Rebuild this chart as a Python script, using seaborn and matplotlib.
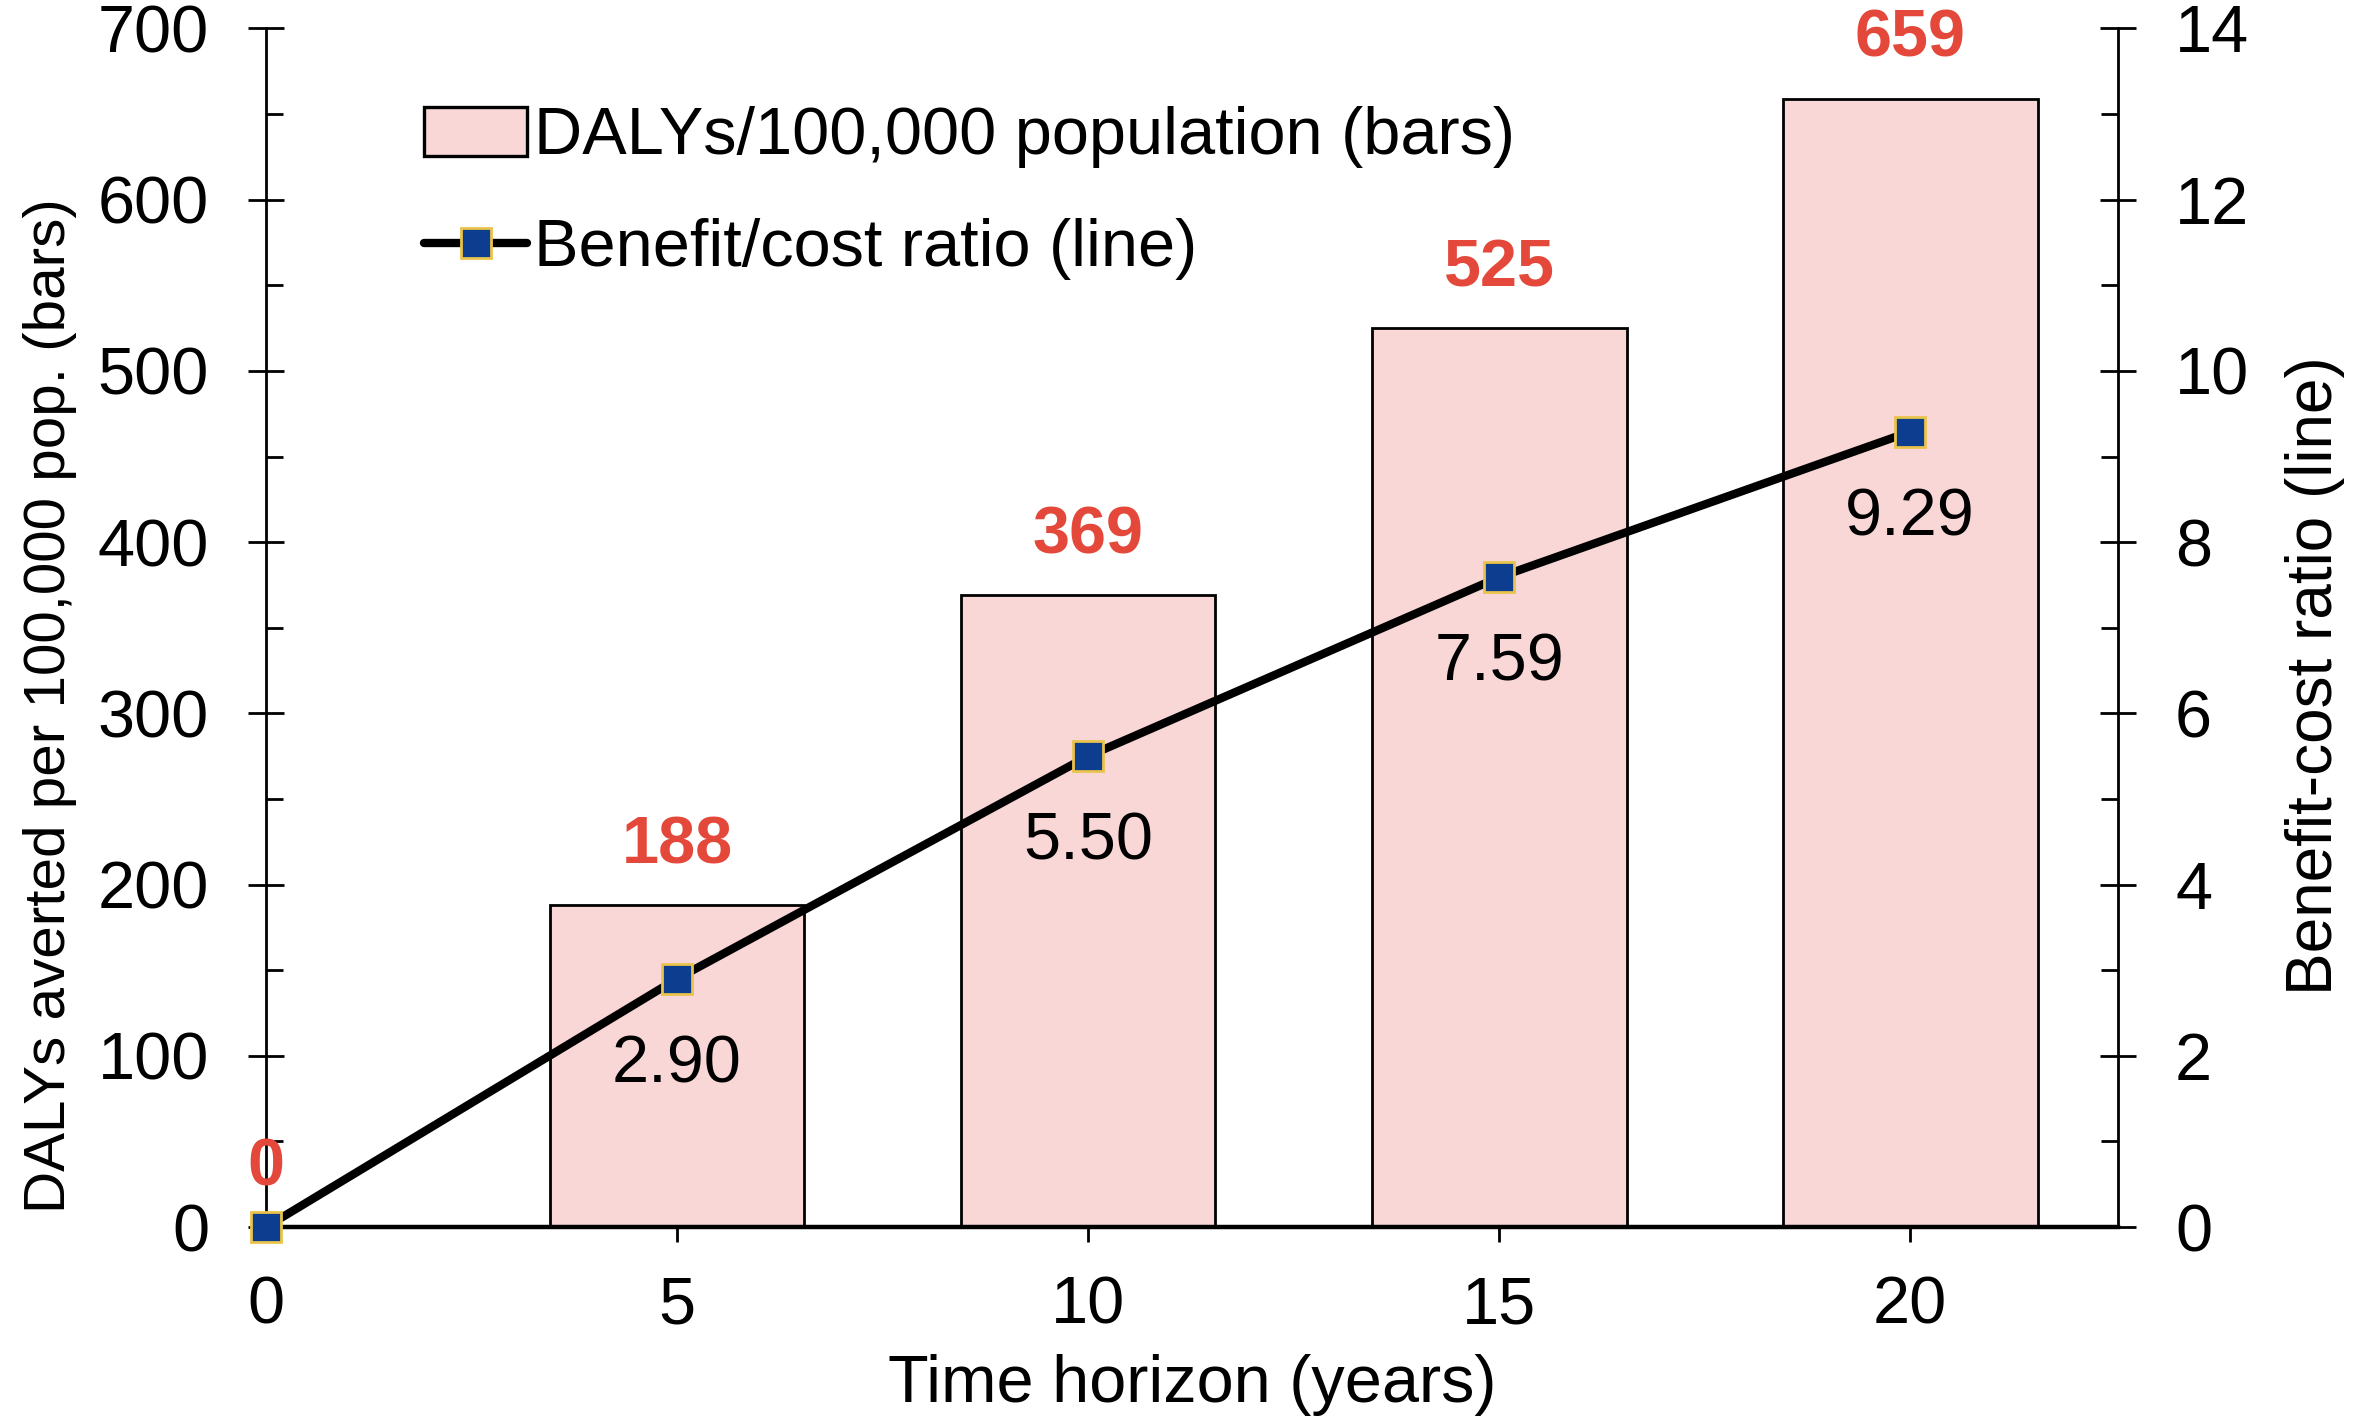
import matplotlib
matplotlib.use("Agg")
import matplotlib.pyplot as plt
from matplotlib.patches import Patch
from matplotlib.lines import Line2D
from matplotlib.ticker import MultipleLocator
import seaborn as sns
import pandas as pd

# data
years = [0, 5, 10, 15, 20]
dalys = [0, 188, 369, 525, 659]
bcr = [0.0, 2.90, 5.50, 7.59, 9.29]
bcr_labels = ["", "2.90", "5.50", "7.59", "9.29"]

bar_fill = "#F8D7D6"
red = "#E3483A"
marker_face = "#0C3D8E"
marker_edge = "#E9C34B"

sns.set_style("ticks")
plt.rcParams["font.family"] = ["Liberation Sans", "DejaVu Sans"]
plt.rcParams["font.size"] = 24
plt.rcParams["text.color"] = "black"
plt.rcParams["axes.labelcolor"] = "black"
plt.rcParams["xtick.color"] = "black"
plt.rcParams["ytick.color"] = "black"
plt.rcParams["axes.edgecolor"] = "black"

df = pd.DataFrame({"years": years, "dalys": dalys, "bcr": bcr})

fig, ax = plt.subplots(figsize=(11.8, 7.12), dpi=200)
fig.subplots_adjust(left=0.1127, right=0.8975, bottom=0.1383, top=0.980)

sns.barplot(data=df, x="years", y="dalys", native_scale=True, width=0.62,
            color=bar_fill, edgecolor="black", linewidth=1.0, saturation=1,
            ax=ax, zorder=2)

# red value labels above bars
for x, v in zip(years, dalys):
    ax.annotate(f"{v}", (x, v), xytext=(0, 10), textcoords="offset points",
                ha="center", va="bottom", color=red, fontweight="bold",
                fontsize=24, zorder=5, annotation_clip=False)

ax.set_xlim(0, 22.53)
ax.set_ylim(0, 700)
ax.xaxis.set_major_locator(MultipleLocator(5))
ax.yaxis.set_major_locator(MultipleLocator(100))
ax.yaxis.set_minor_locator(MultipleLocator(50))
ax.tick_params(axis="x", which="major", direction="inout", length=11, width=1.0,
               pad=12, labelsize=24)
ax.tick_params(axis="y", which="major", direction="inout", length=13, width=1.0,
               pad=14, labelsize=24)
ax.tick_params(axis="y", which="minor", direction="in", length=6, width=1.0)
ax.set_xlabel("Time horizon (years)", fontsize=24, labelpad=6)
ax.set_ylabel("DALYs averted per 100,000 pop. (bars)", fontsize=21)
ax.yaxis.set_label_coords(-0.102, 0.435)
ax.spines["top"].set_visible(False)
ax.spines["right"].set_visible(False)
ax.spines["left"].set_linewidth(1.0)
ax.spines["bottom"].set_linewidth(1.6)

ax2 = ax.twinx()
sns.lineplot(data=df, x="years", y="bcr", color="black", linewidth=3.0,
             marker="s", markersize=11, markerfacecolor=marker_face,
             markeredgecolor=marker_edge, markeredgewidth=1.0, ax=ax2,
             zorder=4, clip_on=False)
for x, v, lab in zip(years, bcr, bcr_labels):
    if lab:
        ax2.annotate(lab, (x, v), xytext=(0, -20), textcoords="offset points",
                     ha="center", va="top", color="black", fontsize=24)

ax2.set_ylim(0, 14)
ax2.yaxis.set_major_locator(MultipleLocator(2))
ax2.yaxis.set_minor_locator(MultipleLocator(1))
ax2.tick_params(axis="y", which="major", direction="inout", length=13, width=1.0,
                pad=14, labelsize=24)
ax2.tick_params(axis="y", which="minor", direction="in", length=6, width=1.0)
ax2.set_ylabel("Benefit-cost ratio (line)", fontsize=23, rotation=90)
ax2.yaxis.set_label_coords(1.09, 0.46)
ax2.spines["top"].set_visible(False)
ax2.spines["left"].set_visible(False)
ax2.spines["bottom"].set_visible(False)
ax2.spines["right"].set_linewidth(1.0)

handles = [
    Patch(facecolor=bar_fill, edgecolor="black", linewidth=1.2),
    Line2D([0], [0], color="black", linewidth=3.0, marker="s", markersize=11,
           markerfacecolor=marker_face, markeredgecolor=marker_edge),
]
ax2.legend(handles, ["DALYs/100,000 population (bars)", "Benefit/cost ratio (line)"],
           loc="upper left", bbox_to_anchor=(0.053, 0.985), frameon=False,
           handlelength=1.55, handleheight=0.75, handletextpad=0.1,
           labelspacing=0.75, fontsize=24)

fig.savefig("out.png", dpi=200)
